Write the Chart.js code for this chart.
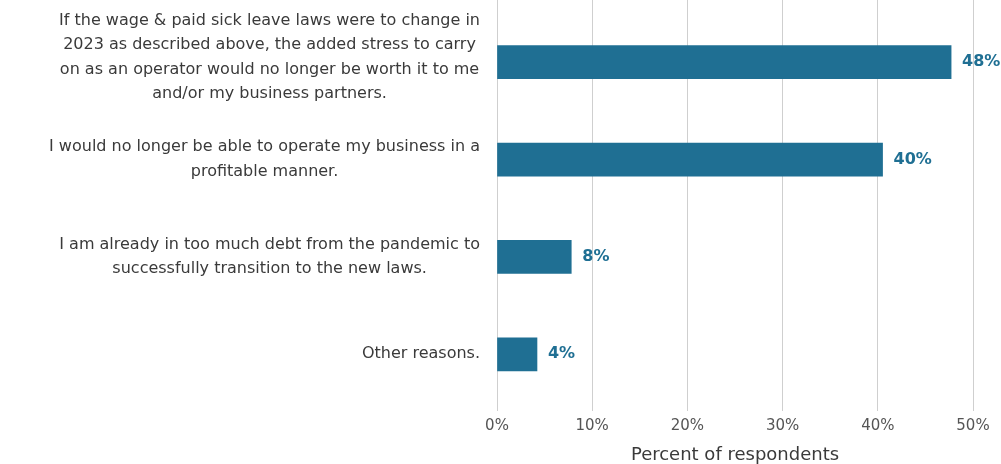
<!DOCTYPE html>
<html>
<head>
<meta charset="utf-8">
<script src="https://cdn.jsdelivr.net/npm/chart.js"></script>
<style>
  body { margin: 0; background: #fff; }
  #wrap { width: 1001px; height: 464px; position: relative; }
</style>
</head>
<body>
<div id="wrap"><canvas id="bar-chart"></canvas></div>
<script>
// Categories (each line of the label on its own)
var categories = [
    ['If the wage & paid sick leave laws were to change in',
     '2023 as described above, the added stress to carry',
     'on as an operator would no longer be worth it to me',
     'and/or my business partners.'],
    ['I would no longer be able to operate my business in a',
     'profitable manner.'],
    ['I am already in too much debt from the pandemic to',
     'successfully transition to the new laws.'],
    ['Other reasons.']
];

// Bar lengths (percent of respondents)
var values = [47.7, 40.5, 7.8, 4.2];

// Printed value labels
var valueLabels = ['48%', '40%', '8%', '4%'];

// X axis ticks
var xTicks = [0, 10, 20, 30, 40, 50];

var barColor = '#1f6f93';
var gridColor = '#cfcfcf';

// draws the centred multi-line category labels, right edge at the axis
// and carries the vertical grid lines up to the top edge
var categoryLabels = {
    id: 'categoryLabels',
    beforeDatasetsDraw: function (chart) {
        var ctx = chart.ctx;
        var x = chart.scales.x;
        ctx.save();
        ctx.strokeStyle = gridColor;
        ctx.lineWidth = 1;
        xTicks.forEach(function (v) {
            // same pixel alignment Chart.js uses for its grid lines
            var px = Math.round(x.getPixelForValue(v) - 0.5) + 0.5;
            ctx.beginPath();
            ctx.moveTo(px, 0);
            ctx.lineTo(px, chart.chartArea.top + 1);
            ctx.stroke();
        });
        ctx.restore();
    },
    afterDraw: function (chart) {
        var ctx = chart.ctx;
        var y = chart.scales.y;
        var right = chart.chartArea.left - 17;
        var lineH = 24.5;
        ctx.save();
        ctx.font = '16px "DejaVu Sans"';
        ctx.fillStyle = '#3a3a3a';
        ctx.textAlign = 'center';
        ctx.textBaseline = 'middle';
        categories.forEach(function (lines, i) {
            var w = 0;
            lines.forEach(function (l) { w = Math.max(w, ctx.measureText(l).width); });
            var cx = right - w / 2;
            var cy = y.getPixelForValue(i);
            if (lines.length > 2) cy -= 5;
            lines.forEach(function (l, j) {
                ctx.fillText(l, cx, cy + (j - (lines.length - 1) / 2) * lineH);
            });
        });
        ctx.restore();
    }
};

// value labels at the end of each bar
var barValues = {
    id: 'barValues',
    afterDatasetsDraw: function (chart) {
        var ctx = chart.ctx;
        var meta = chart.getDatasetMeta(0);
        ctx.save();
        ctx.font = 'bold 16px "DejaVu Sans"';
        ctx.fillStyle = barColor;
        ctx.textAlign = 'left';
        ctx.textBaseline = 'middle';
        meta.data.forEach(function (bar, i) {
            ctx.fillText(valueLabels[i], bar.x + 11, bar.y);
        });
        ctx.restore();
    }
};

var barChart = new Chart(document.getElementById('bar-chart'), {
    type: 'bar',
    data: {
        labels: categories.map(function (c) { return c.join(' '); }),
        datasets: [{
            data: values,
            backgroundColor: barColor,
            barThickness: 33
        }]
    },
    options: {
        indexAxis: 'y',
        responsive: true,
        maintainAspectRatio: false,
        animation: false,
        layout: { padding: { left: 497, right: 28, top: 13.5, bottom: 0 } },
        plugins: {
            legend: { display: false },
            tooltip: { enabled: false }
        },
        scales: {
            x: {
                min: 0,
                max: 50,
                afterBuildTicks: function (scale) {
                    scale.ticks = xTicks.map(function (v) { return { value: v }; });
                },
                grid: { color: gridColor, tickLength: 8, tickColor: gridColor },
                border: { display: false },
                ticks: {
                    padding: 6,
                    color: '#555',
                    font: { family: 'DejaVu Sans', size: 15 },
                    callback: function (v) { return v + '%'; }
                },
                title: {
                    display: true,
                    text: 'Percent of respondents',
                    color: '#3a3a3a',
                    font: { family: 'DejaVu Sans', size: 18, lineHeight: 1.0 },
                    padding: { top: 5, bottom: 0 }
                }
            },
            y: {
                display: false
            }
        }
    },
    plugins: [categoryLabels, barValues]
});
</script>
</body>
</html>
